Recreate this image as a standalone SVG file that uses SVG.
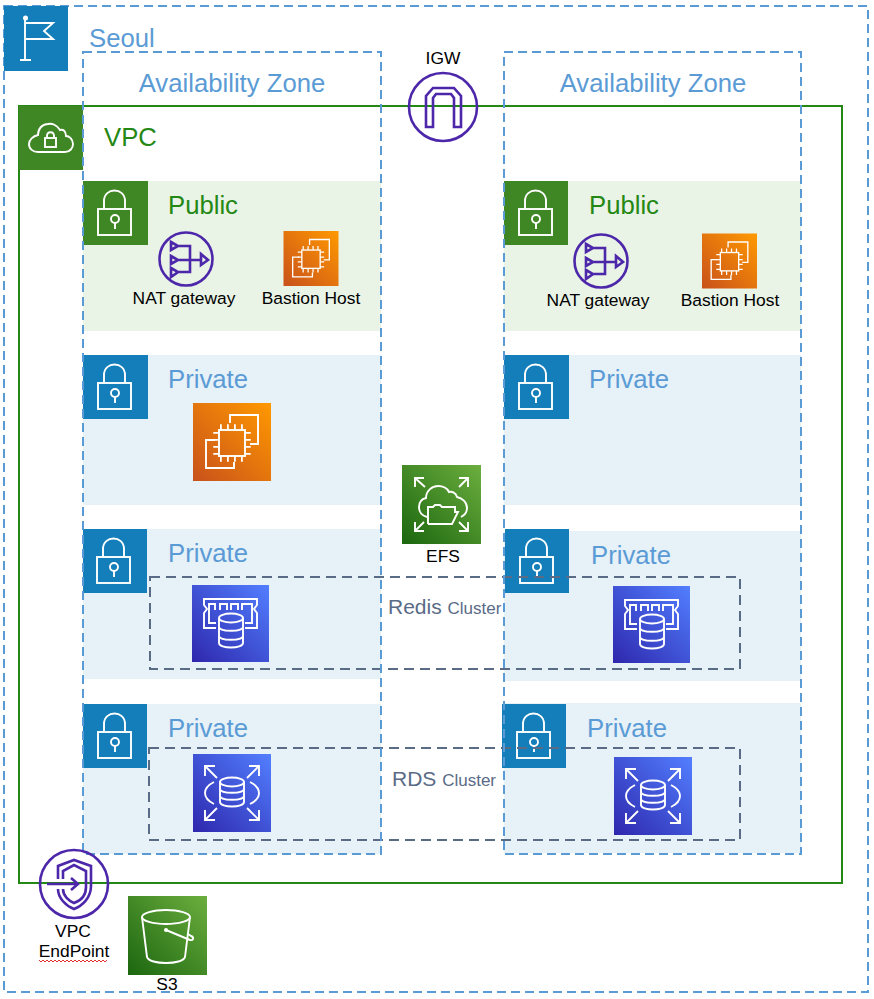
<svg xmlns="http://www.w3.org/2000/svg" width="874" height="999" viewBox="0 0 874 999">
<style>
text{font-family:"Liberation Sans",Arial,sans-serif}
.t{font-size:25.7px}
.blue{fill:#5B9BD5}
.green{fill:#248814}
.lab{font-size:17.4px;fill:#000}
.mid{text-anchor:middle}
.clu{fill:#5A6B86;font-size:21px}
.clu tspan{font-size:17px}
.pub{fill:#E9F3E6}
.pri{fill:#E6F1F8}
.az{fill:none;stroke:#5B9BD5;stroke-width:2;stroke-dasharray:9 5}
.cl{fill:none;stroke:#5A6B86;stroke-width:2;stroke-dasharray:10 6}
.w{fill:none;stroke:#fff;stroke-width:1.9}
.pin{fill:none;stroke:#fff;stroke-width:5.500;stroke-dasharray:1.800 5.200}
.v{fill:none;stroke:#4D27AA;stroke-width:2.600}
</style>
<defs>
<linearGradient id="gO" x1="0" y1="1" x2="1" y2="0"><stop offset="0" stop-color="#C8511B"/><stop offset="1" stop-color="#FF9900"/></linearGradient>
<linearGradient id="gG" x1="0" y1="1" x2="1" y2="0"><stop offset="0" stop-color="#1B660F"/><stop offset="1" stop-color="#6CAE3E"/></linearGradient>
<linearGradient id="gB" x1="0" y1="1" x2="1" y2="0"><stop offset="0" stop-color="#2E27AD"/><stop offset="1" stop-color="#527FFF"/></linearGradient>
<symbol id="lock" viewBox="0 0 64 64">
<path class="w" d="M21 28V20C21 6 42 6 42 20V28"/>
<rect class="w" x="15" y="28" width="33" height="26"/>
<circle class="w" cx="32" cy="38" r="4"/>
<path class="w" d="M32 42V48"/>
</symbol>
<symbol id="chip" viewBox="0 0 78 78">
<rect width="78" height="78" fill="url(#gO)"/>
<rect class="w" x="26" y="27" width="26" height="26"/>
<path class="w" d="M37 20V12H65V41H57M22 37H13V65H41V59"/>
<path class="pin" d="M27 24H53M27 56H53M23 29V55M55 29V55"/>
</symbol>
<symbol id="mem" viewBox="0 0 77 77">
<rect width="77" height="77" fill="url(#gB)"/>
<path class="w" d="M24 43H12V28L15 24L12 20V14H65V20L62 24L65 28V43H53"/>
<path class="w" d="M24 38H17V19H23V25M28 25V19H35V25M39 25V19H46V25M50 25V19H60V38H53"/>
<ellipse class="w" cx="39" cy="33" rx="12" ry="4.500"/>
<path class="w" d="M27 33V58C27 64 51 64 51 58V33M27 42C27 47 51 47 51 42M27 51C27 56 51 56 51 51"/>
</symbol>
<symbol id="rds" viewBox="0 0 78 78">
<rect width="78" height="78" fill="url(#gB)"/>
<ellipse class="w" cx="39" cy="28" rx="12" ry="4.500"/>
<path class="w" d="M27 28V48C27 54 51 54 51 48V28M27 35C27 40 51 40 51 35M27 42C27 47 51 47 51 42"/>
<path class="w" d="M21 28C9 34 9 44 21 50M57 28C69 34 69 44 57 50"/>
<path class="w" d="M12 12L24 24M12 22V12H22M66 12L54 24M56 12H66V22M12 66L24 54M12 56V66H22M66 66L54 54M66 56V66H56"/>
</symbol>
<symbol id="nat" viewBox="-28 -28 56 56">
<circle class="v" cx="0" cy="0" r="26.500"/>
<path class="v" d="M-15-17L-8-13L-15-9ZM-15-3L-8 1L-15 5ZM-15 9L-8 13L-15 18ZM-8-13H4V13H-8M-8 1H15M15-5L22 1L15 6Z"/>
</symbol>
</defs>

<g id="region-seoul">
<rect x="4" y="6" width="864" height="986" fill="none" stroke="#5B9BD5" stroke-width="2" stroke-dasharray="9 5"/>
<rect x="4" y="6" width="64" height="65" fill="#147EBA"/>
<path class="w" d="M25 17V60M20 60H31M25 23H53L44 31L53 39H25"/>
<circle cx="25.500" cy="18" r="2.500" fill="#fff"/>
<text class="t blue" x="89" y="47">Seoul</text>
</g>

<g id="subnet-backgrounds">
<rect class="pub" x="83" y="181" width="298" height="150"/>
<rect class="pub" x="504" y="181" width="297" height="150"/>
<rect class="pri" x="83" y="355" width="298" height="150"/>
<rect class="pri" x="504" y="355" width="297" height="150"/>
<rect class="pri" x="83" y="529" width="298" height="150"/>
<rect class="pri" x="504" y="531" width="297" height="150"/>
<rect class="pri" x="83" y="704" width="298" height="150"/>
<rect class="pri" x="504" y="703" width="297" height="150"/>
</g>

<g id="vpc">
<rect x="19" y="106" width="823" height="777" fill="none" stroke="#248814" stroke-width="2"/>
<rect x="19" y="106" width="64" height="64" fill="#3F8624"/>
<path class="w" d="M38 152H65C70 152 73 148 73 144C73 139 69 136 66 136C66 131 63 129 60 130C57 125 52 123 48 124C42 124 38 129 38 135C33 136 29 140 29 144C29 149 33 152 38 152Z"/>
<rect class="w" x="45" y="138" width="11" height="9"/>
<path class="w" d="M47 138V136C47 131 54 131 54 136V138"/>
<text class="t green" x="104" y="146">VPC</text>
</g>

<g id="subnet-tiles">
<g id="public-a"><rect x="83" y="181" width="65" height="64" fill="#3F8624"/><use href="#lock" x="83" y="181" width="64" height="64"/><text class="t green" x="168" y="214">Public</text></g>
<g id="public-b"><rect x="504" y="181" width="64" height="64" fill="#3F8624"/><use href="#lock" x="504" y="181" width="64" height="64"/><text class="t green" x="589" y="214">Public</text></g>
<g id="private-a1"><rect x="83" y="355" width="65" height="64" fill="#147EBA"/><use href="#lock" x="83" y="355" width="64" height="64"/><text class="t blue" x="168" y="388">Private</text></g>
<g id="private-b1"><rect x="504" y="355" width="65" height="64" fill="#147EBA"/><use href="#lock" x="504" y="355" width="64" height="64"/><text class="t blue" x="589" y="388">Private</text></g>
<g id="private-a2"><rect x="83" y="529" width="64" height="64" fill="#147EBA"/><use href="#lock" x="82" y="529" width="64" height="64"/><text class="t blue" x="168" y="562">Private</text></g>
<g id="private-b2"><rect x="505" y="529" width="64" height="64" fill="#147EBA"/><use href="#lock" x="505" y="529" width="64" height="64"/><text class="t blue" x="591" y="564">Private</text></g>
<g id="private-a3"><rect x="83" y="704" width="64" height="64" fill="#147EBA"/><use href="#lock" x="83" y="704" width="64" height="64"/><text class="t blue" x="168" y="737">Private</text></g>
<g id="private-b3"><rect x="502" y="704" width="64" height="64" fill="#147EBA"/><use href="#lock" x="502" y="704" width="64" height="64"/><text class="t blue" x="587" y="737">Private</text></g>
</g>

<g id="clusters">
<rect class="cl" x="150" y="577" width="590" height="92"/>
<rect class="cl" x="149" y="748" width="591" height="92"/>
<text class="clu" x="388" y="614">Redis <tspan>Cluster</tspan></text>
<text class="clu" x="392" y="786">RDS <tspan>Cluster</tspan></text>
</g>

<g id="availability-zones">
<rect class="az" x="83" y="52" width="298" height="802"/>
<rect class="az" x="504" y="52" width="297" height="802"/>
<text class="t blue mid" x="232" y="92">Availability Zone</text>
<text class="t blue mid" x="653" y="92">Availability Zone</text>
</g>

<g id="igw">
<circle class="v" cx="443" cy="107" r="34"/>
<path class="v" d="M426 127V96L433 88H454L461 96V127H454V98L451 94H436L433 98V127Z"/>
<text class="lab mid" x="443" y="64">IGW</text>
</g>

<g id="nat-a"><use href="#nat" x="158" y="231" width="56" height="56"/><text class="lab mid" x="184" y="304">NAT gateway</text></g>
<g id="nat-b"><use href="#nat" x="573" y="233" width="56" height="56"/><text class="lab mid" x="598" y="306">NAT gateway</text></g>
<g id="bastion-a"><use href="#chip" x="283" y="231" width="56" height="55"/><text class="lab mid" x="311" y="304">Bastion Host</text></g>
<g id="bastion-b"><use href="#chip" x="702" y="233" width="55" height="56"/><text class="lab mid" x="730" y="306">Bastion Host</text></g>
<g id="ec2"><use href="#chip" x="193" y="403" width="78" height="78"/></g>

<g id="efs">
<rect x="402" y="465" width="79" height="79" fill="url(#gG)"/>
<g transform="translate(402 465)">
<path class="w" d="M13 13L23 22M13 22V13H22M66 13L57 22M57 13H66V22M13 66L22 57M13 57V66H22M66 66L57 57M66 57V66H57"/>
<path class="w" d="M25 52C20 51 17 47 17 42C17 37 20 34 24 33C24 26 30 21 36 21C41 21 45 23 47 27C50 26 54 28 55 32C60 33 65 37 65 43C65 47 63 50 59 52"/>
<path class="w" d="M26 59V42H31L33 40H38L40 42H53V46M26 59H50L56 47H53V42"/>
</g>
<text class="lab mid" x="443" y="562">EFS</text>
</g>

<g id="redis-a"><use href="#mem" x="192" y="585" width="77" height="77"/></g>
<g id="redis-b"><use href="#mem" x="613" y="586" width="77" height="77"/></g>
<g id="rds-a"><use href="#rds" x="193" y="754" width="78" height="78"/></g>
<g id="rds-b"><use href="#rds" x="614" y="757" width="78" height="78"/></g>

<g id="vpc-endpoint">
<circle class="v" cx="74" cy="884" r="34" stroke-width="2.800"/>
<g transform="translate(74 884)">
<path class="v" d="M-16-5V-18L0-24L17-18V2C17 14 8 22 0 25C-8 22-16 14-16 5"/>
<path class="v" d="M-11-5V-13L0-19L12-13V3C12 12 6 17 0 19C-5 17-11 12-11 5"/>
<path class="v" d="M-27 0H4M-3-6L4 0L-3 6"/>
</g>
<text class="lab mid" x="73" y="937">VPC</text>
<text class="lab mid" x="74" y="957">EndPoint</text>
<path fill="none" stroke="#E0312E" stroke-width="1" d="M39 960l2 2l2-2l2 2l2-2l2 2l2-2l2 2l2-2l2 2l2-2l2 2l2-2l2 2l2-2l2 2l2-2l2 2l2-2l2 2l2-2l2 2l2-2l2 2l2-2l2 2l2-2l2 2l2-2l2 2l2-2l2 2l2-2l2 2l2-2"/>
</g>

<g id="s3">
<rect x="128" y="896" width="79" height="79" fill="url(#gG)"/>
<g transform="translate(128 896)">
<ellipse class="w" cx="38" cy="21" rx="24" ry="7"/>
<path class="w" d="M14 21L19 61C21 69 55 69 57 61L62 21"/>
<path class="w" d="M38 34L62 44C66 45 66 41 63 40L60 38"/>
<circle cx="38" cy="34" r="2" fill="#fff"/>
</g>
<text class="lab mid" x="167" y="990">S3</text>
</g>
</svg>
